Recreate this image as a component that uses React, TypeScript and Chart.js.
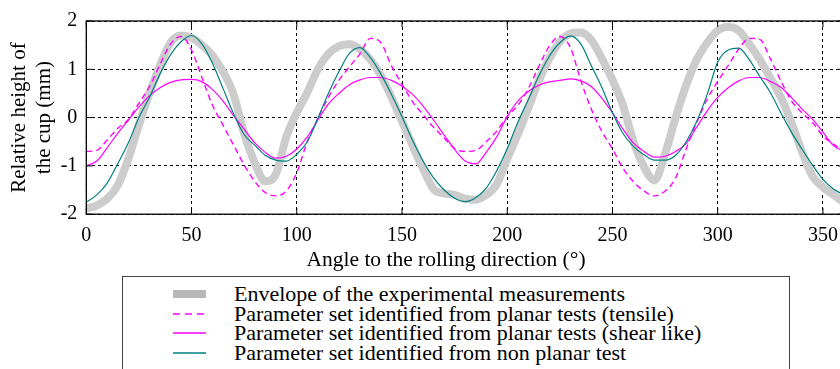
import React, { useEffect, useRef } from "react";
import { Chart, registerables } from "chart.js";

Chart.register(...registerables);

// Angle to the rolling direction (deg)
const angles = [
  0, 5, 10, 15, 20, 25, 30, 35, 40, 45,
  50, 55, 60, 65, 70, 75, 80, 85, 90, 95,
  100, 105, 110, 115, 120, 125, 130, 135, 140, 145,
  150, 155, 160, 165, 170, 175, 180, 185, 190, 195,
  200, 205, 210, 215, 220, 225, 230, 235, 240, 245,
  250, 255, 260, 265, 270, 275, 280, 285, 290, 295,
  300, 305, 310, 315, 320, 325, 330, 335, 340, 345,
  350, 355, 360,
];

const xTickValues = [0, 50, 100, 150, 200, 250, 300, 350];
const yTickValues = [-2, -1, 0, 1, 2];

// Envelope of the experimental measurements (mm)
const envelope = [
  -1.88, -1.82, -1.68, -1.4, -0.85, -0.15, 0.5, 1.08, 1.55, 1.7,
  1.65, 1.5, 1.28, 0.95, 0.48, -0.33, -0.93, -1.32, -1.18, -0.4,
  0.1, 0.52, 1.0, 1.32, 1.48, 1.52, 1.42, 1.2, 0.87, 0.42,
  -0.08, -0.58, -1.06, -1.48, -1.57, -1.6, -1.68, -1.7, -1.6, -1.38,
  -0.85, -0.35, 0.2, 0.77, 1.22, 1.57, 1.74, 1.76, 1.6, 1.22,
  0.78, 0.25, -0.5, -1.02, -1.3, -0.75, 0.0, 0.67, 1.2, 1.55,
  1.8, 1.88, 1.8, 1.52, 1.2, 0.82, 0.42, -0.1, -0.7, -1.21,
  -1.44, -1.6, -1.76,
];

// Parameter set identified from planar tests (tensile)
const tensile = [
  -0.7, -0.68, -0.46, -0.22, -0.04, 0.3, 0.64, 1.1, 1.52, 1.68,
  1.4, 0.82, 0.25, -0.16, -0.57, -0.98, -1.32, -1.55, -1.62, -1.52,
  -1.14, -0.5, -0.02, 0.42, 0.77, 1.05, 1.32, 1.64, 1.55, 1.07,
  0.69, 0.33, 0.06, -0.2, -0.42, -0.64, -0.7, -0.68, -0.5, -0.28,
  0.03, 0.25, 0.6, 1.06, 1.48, 1.68, 1.45, 0.76, 0.17, -0.29,
  -0.65, -1.05, -1.33, -1.52, -1.62, -1.52, -1.25, -0.65, -0.1, 0.38,
  0.75, 1.08, 1.42, 1.64, 1.62, 1.22, 0.76, 0.35, 0.1, -0.1,
  -0.38, -0.55, -0.7,
];

// Parameter set identified from planar tests (shear like)
const shearLike = [
  -1.0, -0.9, -0.62, -0.32, -0.05, 0.22, 0.45, 0.62, 0.73, 0.78,
  0.79, 0.74, 0.58, 0.34, 0.04, -0.24, -0.52, -0.72, -0.84, -0.8,
  -0.65, -0.4, -0.05, 0.28, 0.5, 0.68, 0.78, 0.83, 0.83, 0.77,
  0.65, 0.48, 0.24, -0.05, -0.36, -0.66, -0.9, -0.96, -0.72, -0.4,
  0.02, 0.34, 0.54, 0.67, 0.74, 0.77, 0.8, 0.76, 0.64, 0.4,
  0.1, -0.24, -0.53, -0.7, -0.82, -0.8, -0.7, -0.54, -0.2, 0.14,
  0.42, 0.62, 0.76, 0.83, 0.83, 0.75, 0.63, 0.42, 0.18, -0.03,
  -0.3, -0.58, -0.7,
];

// Parameter set identified from non planar test
const nonPlanar = [
  -1.75, -1.6, -1.35, -0.95, -0.52, 0.0, 0.42, 0.9, 1.3, 1.57,
  1.7, 1.52, 1.12, 0.6, 0.08, -0.35, -0.57, -0.78, -0.88, -0.9,
  -0.76, -0.5, -0.02, 0.5, 0.95, 1.33, 1.45, 1.24, 0.9, 0.48,
  0.02, -0.47, -0.9, -1.25, -1.5, -1.67, -1.74, -1.66, -1.46, -1.1,
  -0.64, -0.1, 0.37, 0.86, 1.27, 1.55, 1.69, 1.52, 1.07, 0.62,
  0.1, -0.33, -0.6, -0.77, -0.88, -0.88, -0.78, -0.5, -0.08, 0.48,
  1.15, 1.4, 1.44, 1.2, 0.85, 0.52, 0.1, -0.3, -0.65, -0.98,
  -1.28, -1.48, -1.6,
];

const seriesLabels = [
  "Envelope of the experimental measurements",
  "Parameter set identified from planar tests (tensile)",
  "Parameter set identified from planar tests (shear like)",
  "Parameter set identified from non planar test",
];

const xTitle = "Angle to the rolling direction (°)";
const yTitle = ["Relative height of", "the cup (mm)"];

const FONT = "'Liberation Serif', 'DejaVu Serif', serif";
const GRAY = "rgb(204,204,204)";
const MAGENTA = "#ff00ff";
const TEAL = "#008080";

const framePlugin = {
  id: "frame",
  afterDraw(chart: any) {
    const { ctx, chartArea: a, scales } = chart;
    ctx.save();
    ctx.setLineDash([]);
    ctx.strokeStyle = "#000";
    ctx.lineWidth = 1;
    const tl = 6;
    ctx.beginPath();
    scales.x.ticks.forEach((t: any) => {
      const px = scales.x.getPixelForValue(t.value);
      ctx.moveTo(px, a.bottom);
      ctx.lineTo(px, a.bottom - tl);
      ctx.moveTo(px, a.top);
      ctx.lineTo(px, a.top + tl);
    });
    scales.y.ticks.forEach((t: any) => {
      const py = scales.y.getPixelForValue(t.value);
      ctx.moveTo(a.left, py);
      ctx.lineTo(a.left + tl, py);
      ctx.moveTo(a.right, py);
      ctx.lineTo(a.right - tl, py);
    });
    ctx.stroke();
    ctx.lineWidth = 1.3;
    ctx.strokeRect(a.left, a.top, a.right - a.left, a.bottom - a.top);
    ctx.restore();
  },
};

function pts(values: number[]) {
  return angles.map((a, i) => ({ x: a, y: values[i] }));
}

const CW = 892;
const CH = 273;

function ChartView() {
  const ref = useRef<HTMLCanvasElement | null>(null);
  useEffect(() => {
    if (!ref.current) return;
    const chart = new Chart(ref.current, {
      type: "line",
      data: {
        datasets: [
          {
            label: seriesLabels[0],
            data: pts(envelope),
            borderColor: GRAY,
            borderWidth: 8,
            pointRadius: 0,
            cubicInterpolationMode: "monotone",
            borderJoinStyle: "round",
            borderCapStyle: "round",
            order: 4,
          },
          {
            label: seriesLabels[1],
            data: pts(tensile),
            borderColor: MAGENTA,
            borderWidth: 1.4,
            borderDash: [6, 4],
            pointRadius: 0,
            cubicInterpolationMode: "monotone",
            order: 3,
          },
          {
            label: seriesLabels[2],
            data: pts(shearLike),
            borderColor: MAGENTA,
            borderWidth: 1.2,
            pointRadius: 0,
            cubicInterpolationMode: "monotone",
            order: 2,
          },
          {
            label: seriesLabels[3],
            data: pts(nonPlanar),
            borderColor: TEAL,
            borderWidth: 1.2,
            pointRadius: 0,
            cubicInterpolationMode: "monotone",
            order: 1,
          },
        ],
      },
      options: {
        animation: false,
        responsive: false,
        layout: { padding: { top: 14.7, right: 0, left: 0, bottom: 0 } },
        plugins: {
          legend: { display: false },
          tooltip: { enabled: false },
          title: {
            display: true,
            position: "bottom",
            text: xTitle,
            color: "#000",
            font: { family: FONT, size: 21.5, lineHeight: 1.2, weight: "normal" },
            padding: { top: 0, bottom: 0 },
          },
        },
        scales: {
          x: {
            type: "linear",
            min: 0,
            max: 360,
            afterBuildTicks: (s: any) => {
              s.ticks = xTickValues.map((v) => ({ value: v }));
            },
            afterFit: (s: any) => {
              s.height = 33;
            },
            ticks: {
              color: "#000",
              font: { family: FONT, size: 20 },
              padding: 10,
              maxRotation: 0,
              autoSkip: false,
            },
            grid: { color: "#000", lineWidth: 1, drawTicks: false },
            border: { display: false, dash: [3, 3] },
          },
          y: {
            type: "linear",
            min: -2,
            max: 2,
            afterBuildTicks: (s: any) => {
              s.ticks = yTickValues.map((v) => ({ value: v }));
            },
            afterFit: (s: any) => {
              s.width = 86.3;
            },
            ticks: {
              color: "#000",
              font: { family: FONT, size: 20 },
              padding: 9,
              callback: (v: any) => String(v),
            },
            grid: { color: "#000", lineWidth: 1, drawTicks: false },
            border: { display: false, dash: [3, 3] },
            title: {
              display: true,
              text: yTitle,
              color: "#000",
              font: { family: FONT, size: 21, lineHeight: 1.19 },
              padding: { top: 7, bottom: 0 },
            },
          },
          yRight: {
            type: "linear",
            position: "right",
            display: true,
            afterFit: (s: any) => {
              s.width = CW - 844;
            },
            ticks: { display: false },
            grid: { display: false, drawTicks: false },
            border: { display: false },
          },
        },
      },
      plugins: [framePlugin],
    } as any);
    return () => chart.destroy();
  }, []);
  return <canvas ref={ref} width={CW} height={CH} style={{ display: "block", width: CW, height: CH }} />;
}

function LegendSymbol({ i }: { i: number }) {
  if (i === 0) {
    return <div style={{ width: 33, height: 8, background: "#b8b8b8" }} />;
  }
  const color = i === 3 ? TEAL : MAGENTA;
  return (
    <svg width={33} height={10} style={{ display: "block" }}>
      <line
        x1={0}
        y1={5}
        x2={33}
        y2={5}
        stroke={color}
        strokeWidth={i === 1 ? 1.6 : 1.3}
        strokeDasharray={i === 1 ? "7 5" : undefined}
      />
    </svg>
  );
}

export default function App() {
  useEffect(() => {
    document.body.style.margin = "0";
  }, []);
  return (
    <div
      style={{
        position: "absolute",
        left: 0,
        top: 0,
        width: 840,
        height: 369,
        overflow: "hidden",
        background: "#fff",
      }}
    >
      <div style={{ position: "absolute", left: 0, top: 0 }}>
        <ChartView />
      </div>
      <div
        style={{
          position: "absolute",
          left: 122,
          top: 276,
          width: 668,
          height: 120,
          border: "1px solid #444",
          boxSizing: "border-box",
          paddingTop: 7,
          fontFamily: FONT,
          fontSize: 22,
          color: "#000",
        }}
      >
        {seriesLabels.map((label, i) => (
          <div
            key={label}
            style={{ display: "flex", alignItems: "center", height: 19.7, whiteSpace: "nowrap" }}
          >
            <div style={{ width: 50 }} />
            <div style={{ width: 61, display: "flex", alignItems: "center" }}>
              <LegendSymbol i={i} />
            </div>
            <span style={{ lineHeight: "19.7px" }}>{label}</span>
          </div>
        ))}
      </div>
    </div>
  );
}
